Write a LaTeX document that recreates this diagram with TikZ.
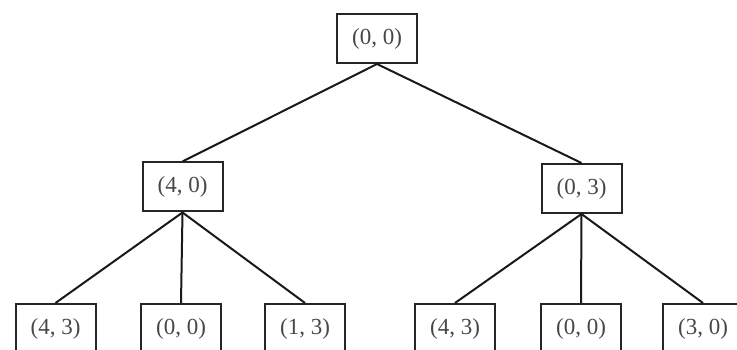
\documentclass[tikz,border=0pt]{standalone}
\usepackage{fontspec}
\setmainfont{Liberation Serif}
\begin{document}
\begin{tikzpicture}[x=1pt,y=1pt,
  statebox/.style={draw=black!85, line width=2pt, minimum width=80pt, minimum height=49pt,
    inner sep=0pt, font=\fontsize{23}{26}\selectfont, text=black!72},
  edge/.style={draw=black!90, line width=2pt}]
\useasboundingbox (0,0) rectangle (737,350);
\node[statebox] (r)  at (377,311.5) {(0, 0)};
\node[statebox] (a)  at (182.5,163) {(4, 0)};
\node[statebox] (b)  at (581.5,161.5) {(0, 3)};
\node[statebox] (a1) at (55.5,21.5) {(4, 3)};
\node[statebox] (a2) at (181,21.5) {(0, 0)};
\node[statebox] (a3) at (305,21.5) {(1, 3)};
\node[statebox] (b1) at (455,21.5) {(4, 3)};
\node[statebox] (b2) at (581,21.5) {(0, 0)};
\node[statebox] (b3) at (703,21.5) {(3, 0)};
\draw[edge] (r.south) -- (a.north);
\draw[edge] (r.south) -- (b.north);
\draw[edge] (a.south) -- (a1.north);
\draw[edge] (a.south) -- (a2.north);
\draw[edge] (a.south) -- (a3.north);
\draw[edge] (b.south) -- (b1.north);
\draw[edge] (b.south) -- (b2.north);
\draw[edge] (b.south) -- (b3.north);
\end{tikzpicture}
\end{document}
